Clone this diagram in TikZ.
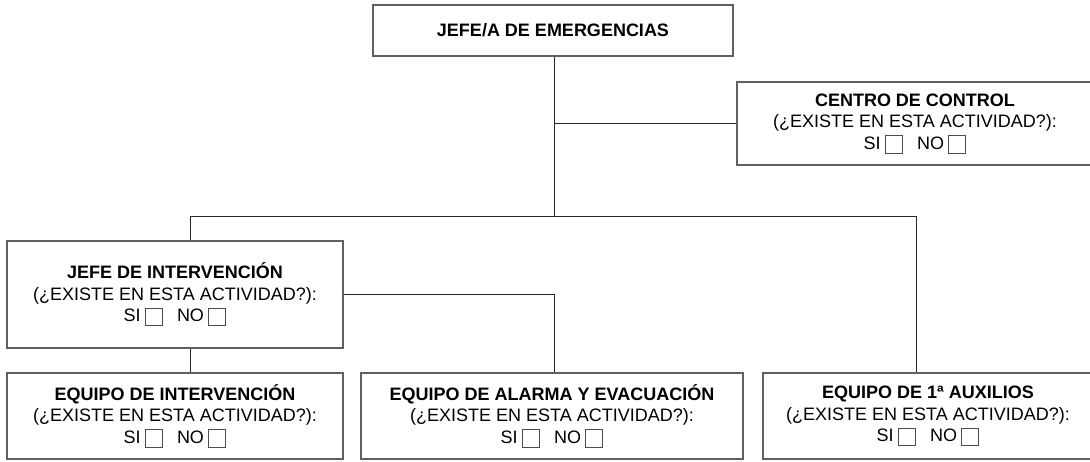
\documentclass[tikz,border=0pt]{standalone}
\usepackage{fontspec}
\setmainfont{Liberation Sans}

\newcommand{\casilla}{\raisebox{-3.5pt}{\color{gray!60!black}\setlength{\fboxrule}{0.9pt}\setlength{\fboxsep}{0pt}\fbox{\rule{0pt}{16.5pt}\hspace{16.5pt}}}}
\newcommand{\sino}{SI\hspace{4pt}\casilla\hspace{14pt}NO\hspace{4pt}\casilla}

\tikzset{
  caja/.style={draw=gray!75!black, line width=1.1pt, align=center, inner sep=0pt,
    font=\fontsize{18}{21.5}\selectfont},
  enlace/.style={draw=black!85, line width=0.9pt}
}

\begin{document}
\begin{tikzpicture}[x=1pt,y=-1pt]
    \useasboundingbox (0,0) rectangle (1090,461);
    \clip (0,0) rectangle (1090,461);

    % Boxes
    \node[caja, minimum width=360, minimum height=51] (jefe) at (553,30.5)
        {\bfseries JEFE/A DE EMERGENCIAS};
    \node[caja, minimum width=356, minimum height=83] (centro) at (915,123.5)
        {\bfseries CENTRO DE CONTROL\\(¿EXISTE EN ESTA ACTIVIDAD?):\\\sino};
    \node[caja, minimum width=336, minimum height=107] (jint) at (175,294.5)
        {\bfseries JEFE DE INTERVENCIÓN\\(¿EXISTE EN ESTA ACTIVIDAD?):\\\sino};
    \node[caja, minimum width=336, minimum height=86] (ei) at (175,416)
        {\bfseries EQUIPO DE INTERVENCIÓN\\(¿EXISTE EN ESTA ACTIVIDAD?):\\\sino};
    \node[caja, minimum width=382, minimum height=86] (ea) at (552,416)
        {\bfseries EQUIPO DE ALARMA Y EVACUACIÓN\\(¿EXISTE EN ESTA ACTIVIDAD?):\\\sino};
    \node[caja, minimum width=330, minimum height=86] (e1) at (928,416)
        {\bfseries EQUIPO DE 1ª AUXILIOS\\(¿EXISTE EN ESTA ACTIVIDAD?):\\\sino};

    % Junctions
    \coordinate (bus) at (554,216);
    \coordinate (busL) at (190,216);
    \coordinate (busR) at (916,216);

    % Connectors
    \draw[enlace] (jefe.south -| bus) -- (bus);
    \draw[enlace] (bus |- centro.west) -- (centro.west);
    \draw[enlace] (busL) -- (busR);
    \draw[enlace] (busL) -- (busL |- jint.north);
    \draw[enlace] (busR) -- (busR |- e1.north);
    \draw[enlace] (jint.east) -- (jint.east -| bus) -- (bus |- ea.north);
    \draw[enlace] (busL |- jint.south) -- (busL |- ei.north);
\end{tikzpicture}
\end{document}
